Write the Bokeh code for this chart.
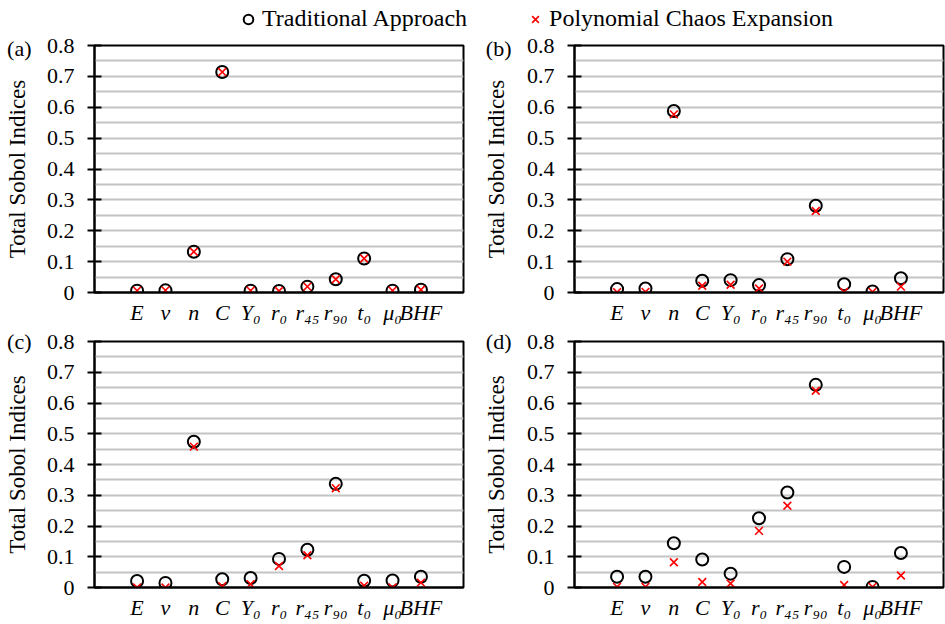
from bokeh.plotting import figure
from bokeh.layouts import column, row
from bokeh.models import (FactorRange, Range1d, FixedTicker, CustomJSTickFormatter,
                          LinearAxis, Legend, LegendItem)
from bokeh.embed import file_html
from bokeh.resources import INLINE

# ---------------- data ----------------
categories = ["E", "v", "n", "C", "Y\u2080", "r\u2080", "r\u2084\u2085", "r\u2089\u2080",
              "t\u2080", "\u03bc\u2080", "BHF"]

trad_a = [0.006, 0.007, 0.132, 0.714, 0.006, 0.005, 0.019, 0.043, 0.110, 0.006, 0.009]
pce_a  = [0.006, 0.007, 0.132, 0.714, 0.006, 0.005, 0.019, 0.043, 0.110, 0.006, 0.009]

trad_b = [0.011, 0.013, 0.588, 0.038, 0.040, 0.024, 0.108, 0.281, 0.027, 0.003, 0.046]
pce_b  = [0.001, 0.002, 0.577, 0.022, 0.025, 0.013, 0.100, 0.264, 0.002, 0.002, 0.019]

trad_c = [0.021, 0.015, 0.474, 0.027, 0.031, 0.093, 0.123, 0.337, 0.022, 0.023, 0.035]
pce_c  = [0.000, 0.000, 0.458, 0.004, 0.011, 0.070, 0.105, 0.323, 0.006, 0.000, 0.016]

trad_d = [0.035, 0.035, 0.144, 0.091, 0.045, 0.225, 0.309, 0.659, 0.067, 0.002, 0.112]
pce_d  = [0.002, 0.002, 0.082, 0.018, 0.013, 0.184, 0.266, 0.640, 0.008, 0.002, 0.039]

y_ticks = [0, 0.1, 0.2, 0.3, 0.4, 0.5, 0.6, 0.7, 0.8]
grid_ticks = [0.05, 0.1, 0.15, 0.2, 0.25, 0.3, 0.35, 0.4, 0.45, 0.5, 0.55, 0.6, 0.65, 0.7, 0.75]
tag_tick = [0.8]

series_names = ["Traditional Approach", "Polynomial Chaos Expansion"]
panel_tags = ["(a)", "(b)", "(c)", "(d)"]
y_title = "Total Sobol Indices"

SERIF = "Liberation Serif"


def make_panel(trad, pce, tag, width, height, left, right, top, bottom):
    p = figure(width=width, height=height,
               x_range=FactorRange(*categories, range_padding=1, range_padding_units="absolute"),
               y_range=Range1d(0, 0.8),
               output_backend="svg", toolbar_location=None,
               min_border_left=left, min_border_right=right,
               min_border_top=top, min_border_bottom=bottom)
    p.background_fill_color = "white"
    p.border_fill_color = "white"
    p.outline_line_color = "black"
    p.outline_line_width = 2
    p.outline_line_alpha = 1

    p.xgrid.visible = False
    p.ygrid.ticker = FixedTicker(ticks=grid_ticks)
    p.ygrid.grid_line_color = "#c4c4c4"
    p.ygrid.grid_line_width = 2

    ya = p.yaxis[0]
    ya.ticker = FixedTicker(ticks=y_ticks)
    ya.formatter = CustomJSTickFormatter(code="return tick == 0 ? '0' : tick.toFixed(1);")
    ya.major_tick_in = 7
    ya.major_tick_out = 7
    ya.major_tick_line_width = 2
    ya.major_tick_line_color = "black"
    ya.minor_tick_line_color = None
    ya.axis_line_color = "black"
    ya.axis_line_width = 2
    ya.major_label_standoff = 13
    ya.major_label_text_font = SERIF
    ya.major_label_text_font_size = "22px"
    ya.major_label_text_color = "black"

    # outer axis carrying the panel tag and the axis title
    tag_axis = LinearAxis(ticker=FixedTicker(ticks=tag_tick),
                          formatter=CustomJSTickFormatter(args=dict(tag=tag), code="return tag;"),
                          axis_line_color=None, major_tick_line_color=None,
                          minor_tick_line_color=None, major_tick_in=0, major_tick_out=0,
                          minor_tick_in=0, minor_tick_out=0,
                          major_label_standoff=12, major_label_text_font=SERIF,
                          major_label_text_font_size="22px", major_label_text_color="black",
                          axis_label=y_title, axis_label_text_font=SERIF,
                          axis_label_text_font_size="23px", axis_label_text_font_style="normal",
                          axis_label_text_color="black", axis_label_standoff=-26)
    p.add_layout(tag_axis, "left")

    xa = p.xaxis[0]
    xa.major_tick_line_color = None
    xa.minor_tick_line_color = None
    xa.major_tick_in = 0
    xa.major_tick_out = 0
    xa.axis_line_color = "black"
    xa.axis_line_width = 2
    xa.major_label_standoff = 7
    xa.major_label_text_font = SERIF
    xa.major_label_text_font_style = "italic"
    xa.major_label_text_font_size = "22px"
    xa.major_label_text_color = "black"

    p.scatter(x=categories, y=trad, marker="circle", size=12, fill_color=None,
              line_color="black", line_width=2)
    p.scatter(x=categories, y=pce, marker="x", size=11, line_color="#ff0000",
              line_width=1.6)
    return p


fa = make_panel(trad_a, pce_a, panel_tags[0], 472, 293, 94, 9, 11, 34)
fb = make_panel(trad_b, pce_b, panel_tags[1], 473, 293, 102, 2, 11, 34)
fc = make_panel(trad_c, pce_c, panel_tags[2], 472, 297, 94, 9, 14, 37)
fd = make_panel(trad_d, pce_d, panel_tags[3], 473, 297, 102, 2, 14, 37)

# legend strip on top
top = figure(width=945, height=34, x_range=Range1d(0, 1), y_range=Range1d(0, 1),
             x_axis_type=None, y_axis_type=None, output_backend="svg",
             toolbar_location=None, min_border=0)
top.outline_line_color = None
top.xgrid.visible = False
top.ygrid.visible = False
nan = float("nan")
r1 = top.scatter(x=[nan], y=[nan], marker="circle", size=12, fill_color=None,
                 line_color="black", line_width=2)
r2 = top.scatter(x=[nan], y=[nan], marker="x", size=11, line_color="#ff0000", line_width=1.6)
leg = Legend(items=[LegendItem(label=series_names[0], renderers=[r1]),
                    LegendItem(label=series_names[1], renderers=[r2])],
             orientation="horizontal", location=(236, 2), padding=0, margin=0,
             spacing=56, glyph_width=24, glyph_height=24, label_standoff=2,
             label_text_font=SERIF, label_text_font_size="24px",
             label_text_color="black", border_line_color=None,
             background_fill_alpha=0)
top.add_layout(leg)

layout = column(top, row(fa, fb), row(fc, fd))

open("out.html", "w").write(file_html(layout, INLINE))
